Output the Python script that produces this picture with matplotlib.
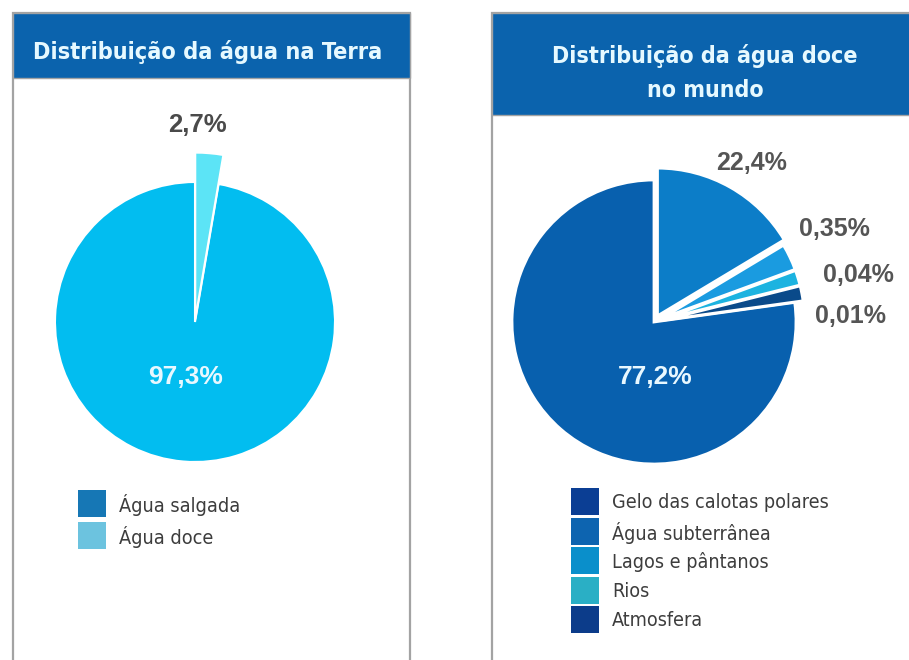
import matplotlib
matplotlib.use('Agg')
import matplotlib.pyplot as plt
from matplotlib import font_manager as fm
from matplotlib.patches import Rectangle

# ------------------------------------------------------------
# Dados
# ------------------------------------------------------------
TITLE_LEFT = 'Distribuição da água na Terra'
TITLE_RIGHT = ['Distribuição da água doce', 'no mundo']

terra_labels = ['Água salgada', 'Água doce']
terra_values = [97.3, 2.7]
terra_text = ['97,3%', '2,7%']
terra_colors = ['#02bdf0', '#5ce4f6']
terra_legend_colors = ['#1677b5', '#6cc3df']

doce_labels = ['Gelo das calotas polares', 'Água subterrânea',
               'Lagos e pântanos', 'Rios', 'Atmosfera']
doce_values = [77.2, 22.4, 0.35, 0.04, 0.01]
doce_text = ['77,2%', '22,4%', '0,35%', '0,04%', '0,01%']
# ângulos como desenhados no original (fatias pequenas ampliadas)
doce_drawn = [77.2, 16.4, 3.0, 1.7, 1.7]
doce_colors = ['#0860ae', '#0c7dc8', '#1a9be0', '#1cb3e0', '#0a4a8a']
doce_legend_colors = ['#0b3e94', '#0d64b0', '#0a8fcb', '#2aafc5', '#0c3c8a']

HEADER = '#0b63ad'
BORDER = '#a3a3a3'


# fonte condensada, se houver; senão Liberation Sans
def pick_font(bold):
    for f in fm.fontManager.ttflist:
        cond = ('Narrow' in f.name or 'Condensed' in f.name or 'Condensed' in f.fname
                or 'Narrow' in f.fname or f.stretch in ('condensed', 'semi-condensed'))
        isbold = f.weight in ('bold', 700, 'heavy') or 'Bold' in f.fname
        if cond and isbold == bold and 'Oblique' not in f.fname and 'Italic' not in f.fname:
            return fm.FontProperties(fname=f.fname)
    return fm.FontProperties(family=['Liberation Sans', 'DejaVu Sans'],
                             weight='bold' if bold else 'normal')


FP_TITLE = pick_font(True)
FP_LEG = pick_font(False)
SANS = ['Liberation Sans', 'DejaVu Sans']

W, H = 909, 660
fig = plt.figure(figsize=(W / 100, H / 100), dpi=100)
fig.patch.set_facecolor('white')
renderer = fig.canvas.get_renderer()


def fx(x):
    return x / W


def fy(y):
    return 1 - y / H


def fit(t, width, size):
    # ajusta o tamanho da fonte à largura medida no original
    t.set_fontsize(size)
    w = t.get_window_extent(renderer).width
    t.set_fontsize(size * width / w)
    return t.get_fontsize()


def panel(x0, x1, y_header):
    fig.add_artist(Rectangle((fx(x0), fy(H + 20)), (x1 - x0) / W, (H + 20 - 13) / H,
                             transform=fig.transFigure, fill=False, ec=BORDER, lw=1.6))
    fig.add_artist(Rectangle((fx(x0), fy(y_header)), (x1 - x0) / W, (y_header - 13) / H,
                             transform=fig.transFigure, fc=HEADER, ec=BORDER, lw=1.0))


panel(13, 410, 78)
panel(492, 930, 115)

t = fig.text(fx(208), fy(59), TITLE_LEFT, ha='center', va='baseline', color='#e6f9ff',
             fontproperties=FP_TITLE)
fit(t, 349, 21)
t = fig.text(fx(705), fy(63), TITLE_RIGHT[0], ha='center', va='baseline', color='#e6f9ff',
             fontproperties=FP_TITLE)
s = fit(t, 306, 21)
t = fig.text(fx(705), fy(97), TITLE_RIGHT[1], ha='center', va='baseline', color='#e6f9ff',
             fontproperties=FP_TITLE)
t.set_fontsize(s)

# ------------------------------------------------------------
# Pizza esquerda
# ------------------------------------------------------------
R1 = 140
ax1 = fig.add_axes([fx(195 - 180), fy(322 + 180), 360 / W, 360 / H])
w1, _ = ax1.pie(terra_values, colors=terra_colors, startangle=90, counterclock=True,
                explode=[0, 0.02], wedgeprops=dict(edgecolor='white', linewidth=1.5))
w1[1].set_radius(1.19)
lim = 180 / R1
ax1.set_xlim(-lim, lim)
ax1.set_ylim(-lim, lim)
ax1.set_aspect('equal')
ax1.axis('off')
ax1.text(-0.07, -0.39, terra_text[0], ha='center', va='center', color='#e8f8ff',
         fontsize=19, weight='bold', family=SANS)
ax1.text(0.014, 1.41, terra_text[1], ha='center', va='center', color='#4a4a4a',
         fontsize=18.5, weight='bold', family=SANS)

# ------------------------------------------------------------
# Pizza direita
# ------------------------------------------------------------
R2 = 142
ax2 = fig.add_axes([fx(654 - 180), fy(322 + 180), 360 / W, 360 / H])
order = [0, 4, 3, 2, 1]  # sentido anti-horário a partir do topo
w2, _ = ax2.pie([doce_drawn[i] for i in order], colors=[doce_colors[i] for i in order],
                startangle=90, counterclock=True,
                explode=[0, 0.06, 0.06, 0.06, 0.05],
                wedgeprops=dict(edgecolor='white', linewidth=2))
w2[4].set_radius(1.04)
lim = 180 / R2
ax2.set_xlim(-lim, lim)
ax2.set_ylim(-lim, lim)
ax2.set_aspect('equal')
ax2.axis('off')
ax2.text(0.007, -0.387, doce_text[0], ha='center', va='center', color='#e8f8ff',
         fontsize=19, weight='bold', family=SANS)
label_pos = [(0.69, 1.12), (1.27, 0.655), (1.437, 0.33), (1.387, 0.042)]
for txt, (lx, ly) in zip(doce_text[1:], label_pos):
    ax2.text(lx, ly, txt, ha='center', va='center', color='#555555',
             fontsize=18, weight='bold', family=SANS)


# ------------------------------------------------------------
# Legendas
# ------------------------------------------------------------
def legend(x, y, pitch, labels, colors, ref_width):
    texts = []
    for i, (lab, col) in enumerate(zip(labels, colors)):
        yy = y + i * pitch
        fig.add_artist(Rectangle((fx(x), fy(yy + 27)), 28 / W, 27 / H,
                                 transform=fig.transFigure, fc=col, ec='none'))
        texts.append(fig.text(fx(x + 41), fy(yy + 15), lab, ha='left', va='center',
                              color='#3d3d3d', fontproperties=FP_LEG))
    s = fit(texts[0], ref_width, 13.5)
    for tt in texts:
        tt.set_fontsize(s)


legend(78, 490, 32, terra_labels, terra_legend_colors, 120)
legend(571, 488, 29.5, doce_labels, doce_legend_colors, 216)

fig.savefig('out.png', dpi=100)
